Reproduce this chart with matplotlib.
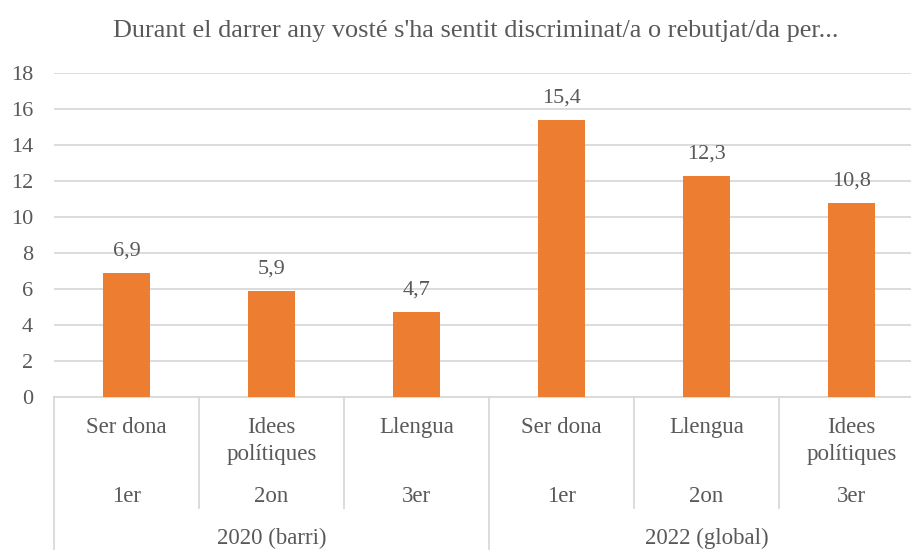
import matplotlib
matplotlib.use("Agg")
import matplotlib.pyplot as plt
from matplotlib.transforms import blended_transform_factory

categories = ["Ser dona", "Idees\npolítiques", "Llengua", "Ser dona", "Llengua", "Idees\npolítiques"]
ranks = ["1er", "2on", "3er", "1er", "2on", "3er"]
groups = ["2020 (barri)", "2022 (global)"]
group_sizes = [3, 3]
values = [6.9, 5.9, 4.7, 15.4, 12.3, 10.8]
value_labels = ["6,9", "5,9", "4,7", "15,4", "12,3", "10,8"]
yticks = [0, 2, 4, 6, 8, 10, 12, 14, 16, 18]
title = "Durant el darrer any vosté s'ha sentit discriminat/a o rebutjat/da per..."

W, H = 912, 550
TXT = "#595959"
GRID = "#D9D9D9"
BAR = "#ED7D31"
FONT = "Liberation Serif"
FS = 16.5

fig = plt.figure(figsize=(W / 100, H / 100), dpi=100)
left_px, right_px, top_px, bot_px = 54, 924, 73, 397
ax = fig.add_axes([left_px / W, 1 - bot_px / H, (right_px - left_px) / W, (bot_px - top_px) / H])

x = list(range(len(values)))
ax.bar(x, values, width=0.32, color=BAR, zorder=3)
ax.set_xlim(-0.5, len(values) - 0.5)
ax.set_ylim(0, 18)
ax.set_yticks(yticks)
ax.set_yticklabels([str(t) for t in yticks], fontsize=16, color=TXT, family=FONT)
ax.tick_params(axis="y", length=0, pad=15)
ax.set_xticks([])
ax.grid(axis="y", color=GRID, linewidth=1.3, zorder=0)
for s in ["top", "right", "left"]:
    ax.spines[s].set_visible(False)
ax.spines["bottom"].set_color(GRID)
ax.spines["bottom"].set_linewidth(1.3)

for xi, v, lab in zip(x, values, value_labels):
    ax.annotate(lab, (xi, v), xytext=(0, 9), textcoords="offset points",
                ha="center", va="bottom", fontsize=16, color=TXT, family=FONT)

tr = blended_transform_factory(ax.transData, fig.transFigure)
def fy(py):
    return 1 - py / H

for xi, cat, rk in zip(x, categories, ranks):
    for li, line in enumerate(cat.split("\n")):
        ax.text(xi, fy(433 + 27 * li), line, transform=tr, ha="center", va="baseline",
                fontsize=FS, color=TXT, family=FONT)
    ax.text(xi, fy(502), rk, transform=tr, ha="center", va="baseline", fontsize=FS,
            color=TXT, family=FONT)

# separators
start = 0
for gi, (g, n) in enumerate(zip(groups, group_sizes)):
    ax.plot([start - 0.5, start - 0.5], [fy(397), fy(550)], transform=tr, color=GRID,
            lw=1.3, clip_on=False)
    for k in range(1, n):
        xs = start + k - 0.5
        ax.plot([xs, xs], [fy(397), fy(508)], transform=tr, color=GRID, lw=1.3, clip_on=False)
    ax.text(start + (n - 1) / 2, fy(544), g, transform=tr, ha="center", va="baseline",
            fontsize=FS, color=TXT, family=FONT)
    start += n
ax.plot([start - 0.5, start - 0.5], [fy(397), fy(550)], transform=tr, color=GRID,
        lw=1.3, clip_on=False)

fig.text(475.5 / W, fy(37), title, ha="center", va="baseline", fontsize=18.9, color=TXT, family=FONT)

fig.savefig("out.png", dpi=100)
